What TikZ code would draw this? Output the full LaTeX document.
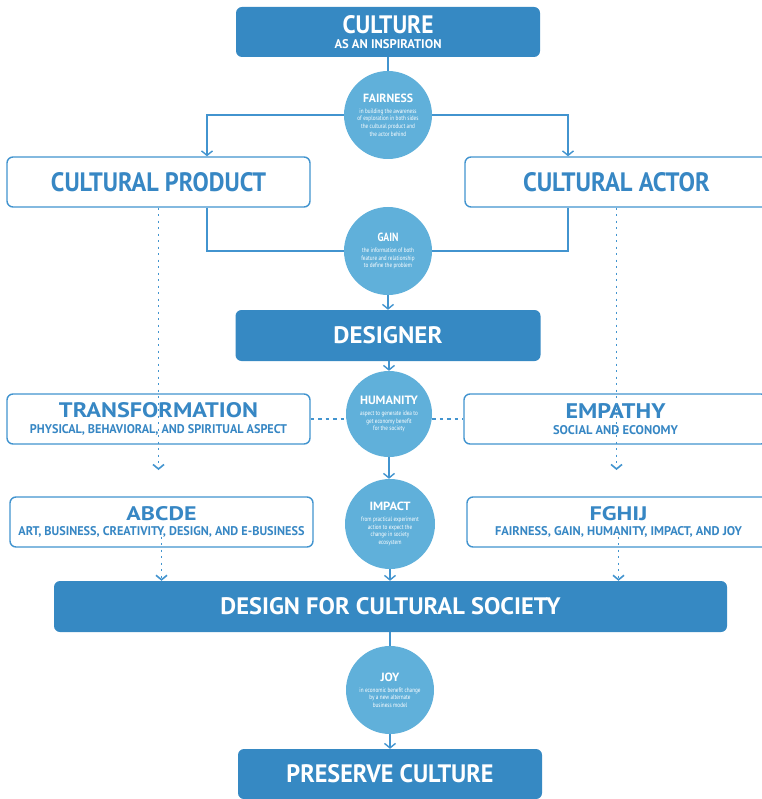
\documentclass[tikz,border=0pt]{standalone}
\usepackage{graphicx}
\usepackage{fontspec}
\setmainfont{PT Sans}
\newfontfamily\cond[FakeStretch=0.8]{PT Sans}
\usetikzlibrary{arrows.meta}
\definecolor{dark}{RGB}{54,137,195}
\definecolor{circ}{RGB}{96,176,218}
\definecolor{lnb}{RGB}{66,148,207}
\definecolor{txb}{RGB}{55,135,196}
\newcommand\fitt[3]{\resizebox{#1pt}{#2pt}{\bfseries #3}}
\newcommand\ctitle[2]{\resizebox{#1pt}{8.5pt}{\bfseries #2}}
\newcommand\twol[3]{\vbox{\baselineskip=0pt\lineskip=0pt\lineskiplimit=0pt\halign{\hfil##\hfil\cr #1\cr\noalign{\vskip #2}#3\cr}}}
\tikzset{
  darkbox/.style={fill=dark, rounded corners=6pt, minimum height=50pt, inner sep=0pt, text=white},
  litebox/.style={draw=lnb, line width=1.4pt, fill=white, rounded corners=6pt, minimum height=50pt, inner sep=0pt, text=txb},
  circnode/.style={circle, fill=circ, inner sep=0pt, text=white, align=center, font=\cond\fontsize{6.5}{7.6}\selectfont},
  conn/.style={draw=lnb, line width=1.4pt},
  arrowed/.style={-{Straight Barb[length=4.5pt,width=11pt]}},
  dotv/.style={draw=lnb, line width=1.6pt, dash pattern=on 2pt off 4.5pt},
  dashh/.style={draw=lnb, line width=1.4pt, dash pattern=on 3.5pt off 4pt}
}
\begin{document}
\begin{tikzpicture}[x=1pt,y=-1pt]
\useasboundingbox (0,0) rectangle (761,799);
% boxes
\node[darkbox, minimum width=304pt] (culture) at (388,32) {\twol{\fitt{91}{18}{CULTURE}}{6pt}{\fitt{107}{9}{AS AN INSPIRATION}}};
\node[litebox, minimum width=303pt] (product) at (158.5,182) {\fitt{215}{19}{CULTURAL PRODUCT}};
\node[litebox, minimum width=303pt] (actor) at (616.5,182) {\fitt{187}{19}{CULTURAL ACTOR}};
\node[darkbox, minimum width=305pt, minimum height=51pt] (designer) at (388,335.5) {\fitt{109}{17}{DESIGNER}};
\node[litebox, minimum width=303pt] (transformation) at (158.5,419) {\twol{\fitt{199}{15}{TRANSFORMATION}}{7pt}{\fitt{257}{9}{PHYSICAL, BEHAVIORAL, AND SPIRITUAL ASPECT}}};
\node[litebox, minimum width=303pt] (empathy) at (615.5,419) {\twol{\fitt{100}{15}{EMPATHY}}{7pt}{\fitt{125}{9}{SOCIAL AND ECONOMY}}};
\node[litebox, minimum width=303pt] (abcde) at (161.5,522) {\twol{\fitt{70}{14}{ABCDE}}{6pt}{\fitt{286}{9}{ART, BUSINESS, CREATIVITY, DESIGN, AND E-BUSINESS}}};
\node[litebox, minimum width=303pt] (fghij) at (618.5,522) {\twol{\fitt{58}{14}{FGHIJ}}{6pt}{\fitt{247}{9}{FAIRNESS, GAIN, HUMANITY, IMPACT, AND JOY}}};
\node[darkbox, minimum width=673pt, minimum height=51pt] (dfcs) at (390.5,606.5) {\fitt{340}{17}{DESIGN FOR CULTURAL SOCIETY}};
\node[darkbox, minimum width=304pt] (preserve) at (390,774) {\fitt{207}{18}{PRESERVE CULTURE}};
% circles
\node[circnode, minimum size=88pt] (fairness) at (388,115) {\ctitle{50}{FAIRNESS}\\[3.5pt] in building the awareness\\ of exploration in both sides\\ the cultural product and\\ the actor behind};
\node[circnode, minimum size=88pt] (gain) at (388,251) {\ctitle{21}{GAIN}\\[3.5pt] the information of both\\ feature and relationship\\ to define the problem};
\node[circnode, minimum size=86pt] (humanity) at (389,414) {\ctitle{58}{HUMANITY}\\[3.5pt] aspect to generate idea to\\ get economy benefit\\ for the society};
\node[circnode, minimum size=90pt] (impact) at (390,524) {\ctitle{41}{IMPACT}\\[3.5pt] from practical experiment\\ action to expect the\\ change in society\\ ecosystem};
\node[circnode, minimum size=88pt] (joy) at (390,690) {\ctitle{19}{JOY}\\[3.5pt] in economic benefit change\\ by a new alternate\\ business model};
% solid connectors
\draw[conn] (culture.south) -- (culture.south |- fairness.north);
\draw[conn,arrowed] (fairness.west) -| ([xshift=48.5pt]product.north);
\draw[conn,arrowed] (fairness.east) -| ([xshift=-48.5pt]actor.north);
\draw[conn] ([xshift=48.5pt]product.south) |- (gain.west);
\draw[conn] ([xshift=-48.5pt]actor.south) |- (gain.east);
\draw[conn,arrowed] (gain.south) -- (gain.south |- designer.north);
\draw[conn,arrowed] (humanity.north |- designer.south) -- (humanity.north);
\draw[conn,arrowed] (humanity.south) -- (humanity.south |- impact.north);
\draw[conn,arrowed] (impact.south) -- (impact.south |- dfcs.north);
\draw[conn] (joy.north |- dfcs.south) -- (joy.north);
\draw[conn,arrowed] (joy.south) -- (joy.south |- preserve.north);
% dotted connectors
\coordinate (tl) at (158.5,470);
\coordinate (tr) at (616.5,470);
\draw[dotv,arrowed] (product.south) -- (tl);
\draw[dotv,arrowed] (actor.south) -- (tr);
\draw[dotv,arrowed] ([yshift=-8pt]abcde.center) -- (abcde.center |- dfcs.north);
\draw[dotv,arrowed] ([yshift=-8pt]fghij.center) -- (fghij.center |- dfcs.north);
\draw[dashh] (transformation.east) -- (humanity.west |- transformation.east);
\draw[dashh] (humanity.east |- empathy.west) -- (empathy.west);
\end{tikzpicture}
\end{document}
